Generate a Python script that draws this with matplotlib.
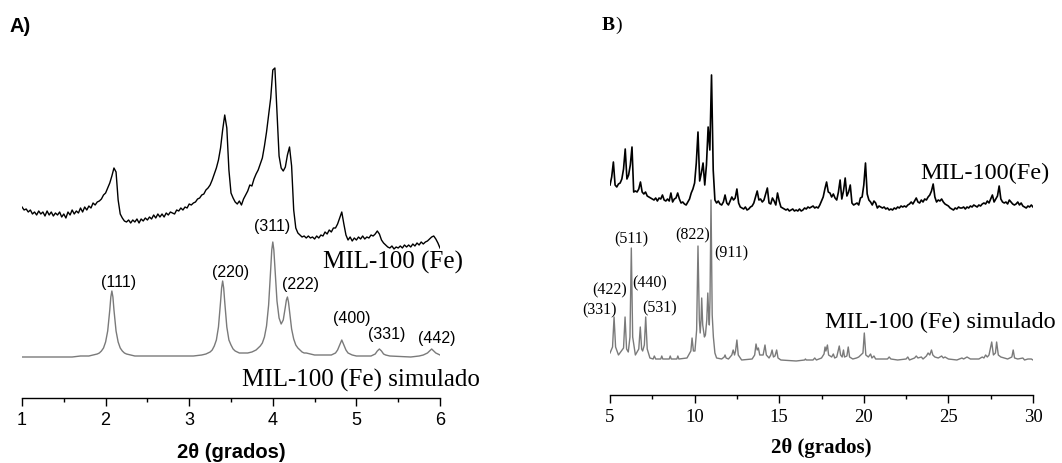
import matplotlib
matplotlib.use("Agg")
import matplotlib.pyplot as plt
import numpy as np
from matplotlib.ticker import MultipleLocator

SANS = 'Liberation Sans'
SERIF = 'Liberation Serif'

# ---- panel A: low angle pattern (intensities in a.u.) ----
exp_a_start = 1.0
exp_a_step = 0.025
exp_a = [191, 188, 189, 186, 188, 184, 186, 183,
         187, 184, 186, 182, 187, 183, 186, 182,
         185, 183, 186, 181, 184, 180, 186, 183,
         188, 184, 187, 185, 190, 186, 191, 188,
         192, 190, 195, 193, 196, 197, 199, 203,
         205, 210, 215, 222, 230, 226, 198, 184,
         180, 177, 176, 178, 175, 178, 176, 179,
         175, 179, 177, 180, 178, 181, 179, 183,
         180, 184, 181, 184, 181, 185, 183, 186,
         185, 184, 188, 187, 190, 188, 191, 190,
         194, 193, 195, 196, 199, 200, 203, 204,
         208, 210, 213, 218, 224, 230, 238, 250,
         268, 283, 270, 228, 205, 200, 196, 194,
         197, 193, 199, 203, 207, 213, 212, 219,
         224, 228, 234, 240, 252, 266, 283, 300,
         328, 330, 285, 242, 230, 227, 231, 243,
         251, 232, 188, 170, 165, 163, 161, 162,
         160, 162, 160, 161, 159, 162, 160, 163,
         162, 166, 164, 168, 166, 170, 170, 174,
         180, 186, 174, 163, 158, 161, 157, 160,
         158, 161, 159, 162, 159, 161, 160, 163,
         162, 164, 167, 164, 158, 155, 153, 151,
         150, 152, 149, 151, 150, 152, 150, 153,
         151, 153, 151, 154, 152, 155, 153, 156,
         154, 156, 157, 159, 161, 162, 159, 155,
         150]

sim_a_x = [1.00, 1.60, 1.70, 1.80, 1.85, 1.90, 1.925, 1.95, 1.975, 2.00,
           2.025, 2.05, 2.0625, 2.075, 2.0875, 2.10, 2.125, 2.15, 2.175, 2.20,
           2.225, 2.25, 2.30, 2.35, 2.45, 2.90, 3.05, 3.15, 3.20, 3.225,
           3.25, 3.275, 3.30, 3.325, 3.35, 3.375, 3.3875, 3.40, 3.4125, 3.425,
           3.45, 3.475, 3.50, 3.525, 3.55, 3.575, 3.60, 3.70, 3.75, 3.775,
           3.80, 3.825, 3.85, 3.875, 3.90, 3.925, 3.95, 3.975, 3.9875, 4.00,
           4.0125, 4.025, 4.05, 4.075, 4.10, 4.125, 4.15, 4.1625, 4.175, 4.1875,
           4.20, 4.225, 4.25, 4.275, 4.30, 4.325, 4.35, 4.375, 4.40, 4.45,
           4.50, 4.70, 4.725, 4.75, 4.775, 4.80, 4.825, 4.85, 4.875, 4.90,
           4.925, 4.95, 5.00, 5.175, 5.20, 5.225, 5.25, 5.275, 5.30, 5.325,
           5.35, 5.40, 5.65, 5.75, 5.80, 5.825, 5.85, 5.875, 5.90, 5.925,
           5.95, 5.975, 6.00]
sim_a_y = [41, 41, 42, 42, 43, 44, 45, 47, 50, 56,
           67, 88, 101, 107, 101, 88, 67, 56, 50, 47,
           45, 44, 43, 42, 42, 42, 42, 43, 44, 45,
           46, 48, 52, 58, 71, 96, 110, 117, 110, 96,
           71, 58, 53, 49, 47, 46, 45, 45, 46, 47,
           48, 50, 52, 55, 61, 72, 93, 129, 148, 156,
           148, 131, 97, 80, 74, 78, 91, 98, 101, 96,
           87, 69, 59, 53, 50, 48, 46, 45, 45, 44,
           43, 43, 44, 45, 48, 53, 58, 53, 48, 45,
           44, 43, 42, 42, 43, 44, 47, 49, 47, 44,
           43, 42, 41, 42, 43, 44, 45, 47, 49, 47,
           45, 44, 43]

hkl_a = ['(111)', '(220)', '(311)', '(222)', '(400)', '(331)', '(442)']
hkl_a_x = [2.15, 3.49, 3.99, 4.33, 4.94, 5.36, 5.96]
hkl_a_y = [116, 125, 171, 113, 80, 64, 60]

# ---- panel B: wide angle pattern (intensities in a.u.) ----
exp_b_start = 5.0
exp_b_step = 0.1
exp_b = [210, 218, 233, 210, 208, 211, 212, 216, 226, 246,
         216, 220, 230, 248, 203, 204, 203, 206, 213, 203,
         201, 203, 199, 198, 197, 196, 195, 197, 194, 197,
         196, 200, 195, 194, 196, 194, 202, 193, 196, 197,
         202, 196, 192, 193, 191, 190, 193, 196, 202, 206,
         212, 232, 263, 214, 222, 232, 210, 230, 268, 245,
         320, 225, 195, 192, 194, 191, 190, 193, 200, 192,
         190, 194, 198, 195, 197, 206, 192, 188, 187, 186,
         188, 185, 186, 188, 189, 192, 198, 204, 195, 196,
         193, 195, 201, 207, 192, 191, 197, 194, 190, 202,
         194, 188, 187, 186, 185, 186, 184, 185, 186, 184,
         185, 184, 186, 184, 185, 187, 186, 188, 187, 188,
         189, 187, 188, 187, 190, 194, 198, 206, 213, 203,
         202, 198, 201, 197, 195, 203, 215, 196, 204, 217,
         199, 203, 210, 192, 190, 191, 192, 190, 197, 198,
         210, 232, 201, 195, 193, 190, 194, 192, 187, 189,
         188, 187, 188, 186, 187, 185, 186, 185, 187, 186,
         188, 187, 189, 188, 189, 188, 190, 191, 193, 191,
         194, 197, 193, 192, 195, 193, 196, 195, 198, 200,
         204, 211, 198, 193, 195, 194, 196, 193, 191, 190,
         189, 187, 186, 185, 187, 186, 188, 187, 187, 188,
         186, 188, 187, 189, 188, 190, 189, 188, 190, 189,
         191, 192, 191, 194, 192, 196, 200, 193, 196, 199,
         209, 196, 193, 192, 193, 191, 195, 193, 191, 190,
         191, 193, 190, 192, 189, 188, 187, 189, 188, 190,
         188]

sim_b_x = [5.00, 5.15, 5.24, 5.33, 5.50, 5.80, 5.89, 5.98, 6.08, 6.18,
           6.26, 6.34, 6.50, 6.70, 6.79, 6.87, 6.93, 7.03, 7.11, 7.20,
           7.36, 7.55, 7.62, 7.70, 8.00, 8.06, 8.12, 8.50, 8.56, 8.62,
           8.95, 9.01, 9.07, 9.55, 9.78, 9.85, 9.93, 10.02, 10.12, 10.20,
           10.28, 10.33, 10.38, 10.42, 10.48, 10.58, 10.64, 10.72, 10.78, 10.84,
           10.87, 10.91, 10.97, 11.04, 11.11, 11.20, 11.30, 11.60, 11.75, 11.80,
           11.86, 12.00, 12.20, 12.28, 12.36, 12.42, 12.50, 12.58, 12.78, 13.40,
           13.55, 13.63, 13.70, 13.77, 13.85, 14.05, 14.16, 14.24, 14.40, 14.50,
           14.58, 14.66, 14.75, 14.85, 14.93, 15.10, 16.00, 16.50, 16.55, 16.60,
           17.00, 17.10, 17.20, 17.50, 17.65, 17.71, 17.76, 17.85, 17.92, 18.10,
           18.20, 18.28, 18.40, 18.55, 18.63, 18.72, 18.80, 18.86, 19.00, 19.08,
           19.16, 19.35, 19.57, 19.70, 19.95, 20.03, 20.12, 20.27, 20.40, 20.48,
           20.60, 20.70, 21.00, 21.40, 21.50, 21.60, 22.00, 22.50, 22.60, 22.70,
           23.00, 23.10, 23.20, 23.40, 23.50, 23.70, 23.80, 23.90, 24.00, 24.08,
           24.20, 24.40, 24.60, 24.70, 24.80, 25.00, 25.50, 25.80, 25.90, 26.10,
           26.30, 26.80, 27.00, 27.10, 27.20, 27.30, 27.40, 27.56, 27.66, 27.78,
           27.85, 27.95, 28.10, 28.30, 28.50, 28.75, 28.83, 28.91, 29.10, 29.40,
           29.50, 29.70, 29.90, 30.00]
sim_b_y = [42, 48, 78, 48, 40, 47, 78, 46, 43, 58,
           147, 58, 40, 46, 68, 46, 44, 50, 78, 46,
           37, 36, 39, 36, 36, 39, 36, 36, 39, 36,
           36, 39, 36, 37, 44, 57, 44, 44, 65, 149,
           75, 62, 75, 97, 70, 58, 60, 75, 102, 78,
           70, 95, 195, 80, 58, 42, 37, 36, 38, 40,
           37, 36, 40, 45, 40, 44, 55, 40, 35, 36,
           40, 51, 45, 47, 40, 40, 50, 40, 37, 40,
           45, 38, 39, 45, 37, 35, 34, 35, 36, 35,
           35, 37, 35, 37, 41, 48, 44, 50, 40, 38,
           41, 37, 38, 49, 40, 38, 45, 38, 39, 48,
           38, 36, 37, 38, 42, 62, 40, 38, 41, 37,
           39, 36, 36, 36, 38, 36, 35, 36, 38, 35,
           37, 39, 37, 38, 36, 39, 42, 40, 45, 40,
           38, 37, 39, 37, 38, 36, 35, 37, 36, 38,
           36, 36, 38, 37, 40, 38, 40, 53, 40, 42,
           53, 40, 38, 37, 36, 38, 45, 37, 36, 37,
           35, 36, 36, 35]

hkl_b = ['(331)', '(422)', '(511)', '(440)', '(531)', '(822)', '(911)']
hkl_b_x = [4.39, 5.0, 6.24, 7.36, 7.9, 9.9, 12.19]
hkl_b_y = [85, 105, 156, 112, 87, 160, 142]

exp_a_x = exp_a_start + exp_a_step * np.arange(len(exp_a))
exp_b_x = exp_b_start + exp_b_step * np.arange(len(exp_b))

fig = plt.figure(figsize=(10.62, 4.63), dpi=100)
ax_a = fig.add_axes([22 / 1062, 65 / 463, 418 / 1062, 398 / 463])
ax_b = fig.add_axes([610 / 1062, 68 / 463, 423 / 1062, 395 / 463])

grey = '#7a7a7a'

# panel A
ax_a.plot(exp_a_x, exp_a, color='black', lw=1.0)
ax_a.plot(sim_a_x, sim_a_y, color=grey, lw=1.0)
for lab, x, y in zip(hkl_a, hkl_a_x, hkl_a_y):
    ax_a.text(x, y, lab, ha='center', va='center', fontsize=11.5, family=SANS)
ax_a.text(5.44, 136, 'MIL-100 (Fe)', ha='center', va='center',
          fontsize=18, family=SERIF)
ax_a.text(5.055, 18, 'MIL-100 (Fe) simulado', ha='center', va='center',
          fontsize=18, family=SERIF)
ax_a.set_xlim(1, 6)
ax_a.set_ylim(0, 398)
ax_a.set_xticks(range(1, 7))
ax_a.xaxis.set_minor_locator(MultipleLocator(0.5))
ax_a.tick_params(axis='x', which='major', labelsize=13)
for lab in ax_a.get_xticklabels():
    lab.set_family(SANS)
ax_a.set_xlabel('2θ (grados)', fontsize=14.5, fontweight='bold', family=SANS)
ax_a.xaxis.set_label_coords(0.5, -54 / 398)
ax_a.xaxis.label.set_verticalalignment('center')

# panel B
ax_b.plot(exp_b_x, exp_b, color='black', lw=1.2)
ax_b.plot(sim_b_x, sim_b_y, color=grey, lw=1.0)
for lab, x, y in zip(hkl_b, hkl_b_x, hkl_b_y):
    ax_b.text(x, y, lab, ha='center', va='center', fontsize=11.5, family=SERIF)
ax_b.text(27.16, 222, 'MIL-100(Fe)', ha='center', va='center',
          fontsize=17.5, family=SERIF)
ax_b.text(24.53, 73, 'MIL-100 (Fe) simulado', ha='center', va='center',
          fontsize=17.5, family=SERIF)
ax_b.set_xlim(5, 30)
ax_b.set_ylim(0, 395)
ax_b.set_xticks(range(5, 31, 5))
ax_b.xaxis.set_minor_locator(MultipleLocator(2.5))
ax_b.tick_params(axis='x', which='major', labelsize=13.5)
for lab in ax_b.get_xticklabels():
    lab.set_family(SERIF)
ax_b.set_xlabel('2θ (grados)', fontsize=15, fontweight='bold', family=SERIF)
ax_b.xaxis.set_label_coords(0.5, -53 / 395)
ax_b.xaxis.label.set_verticalalignment('center')

for ax in (ax_a, ax_b):
    for side in ('left', 'right', 'top'):
        ax.spines[side].set_visible(False)
    ax.spines['bottom'].set_linewidth(1.0)
    ax.set_yticks([])
    ax.patch.set_alpha(0)
    ax.tick_params(axis='x', which='major', length=6, width=1,
                   direction='out', pad=4)
    ax.tick_params(axis='x', which='minor', length=3, width=1,
                   direction='out')

fig.text(9 / 1062, 1 - 27 / 463, 'A)', ha='left', va='center',
         fontsize=14.5, fontweight='bold', family=SANS)
fig.text(602 / 1062, 1 - 25 / 463, 'B', ha='left', va='center',
         fontsize=14, fontweight='bold', family=SERIF)
fig.text(615 / 1062, 1 - 25 / 463, ')', ha='left', va='center',
         fontsize=14, family=SERIF)

fig.savefig('out.png', dpi=100)
